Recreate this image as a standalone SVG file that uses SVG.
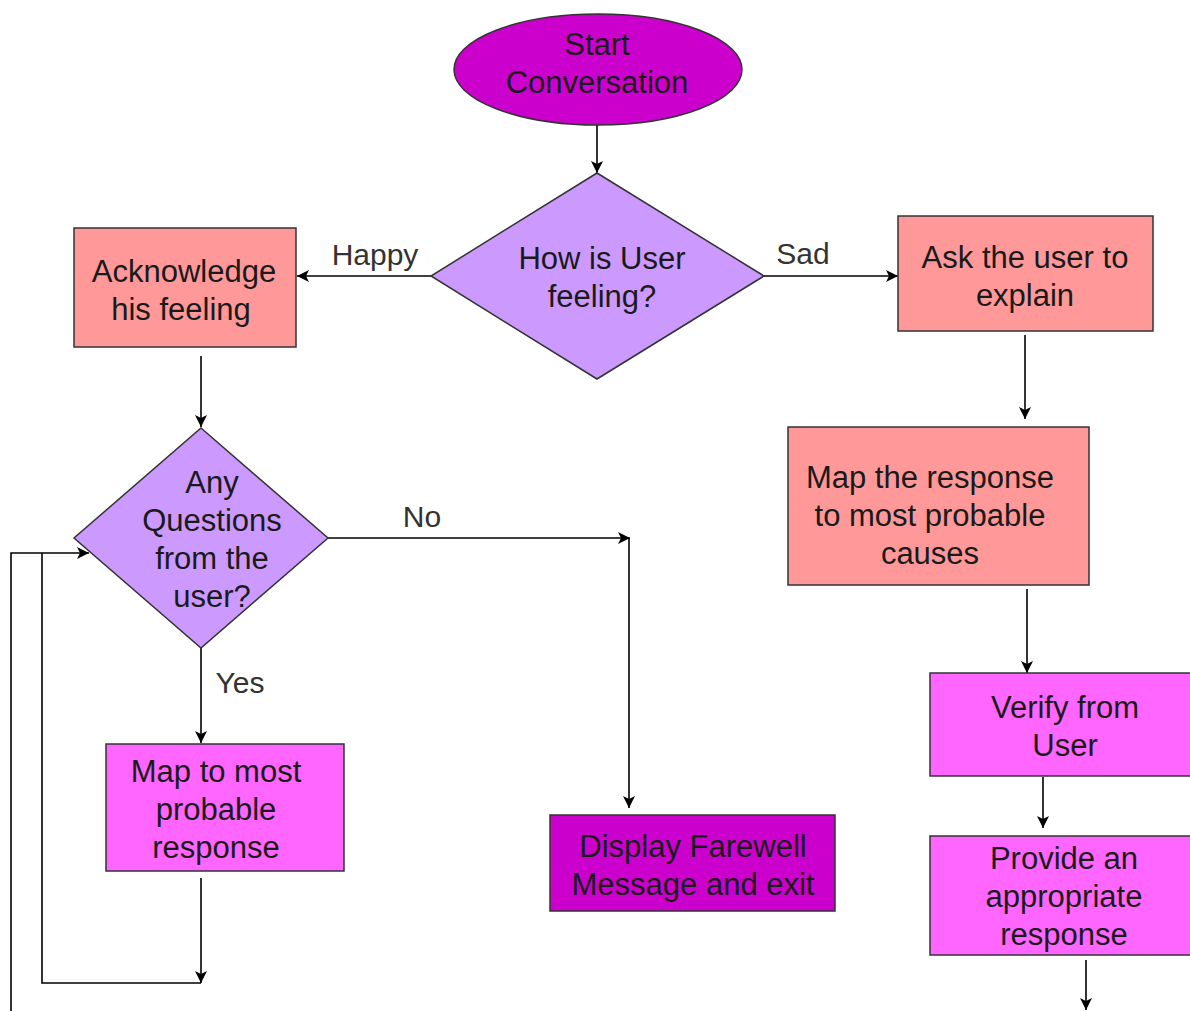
<svg xmlns="http://www.w3.org/2000/svg" width="1190" height="1011" viewBox="0 0 1190 1011">
<style>
.t{font-family:"Liberation Sans",Arial,sans-serif;font-size:31px;fill:#1a1a1a;text-anchor:middle}
.l{font-family:"Liberation Sans",Arial,sans-serif;font-size:30px;fill:#333;text-anchor:middle}
.n{stroke:#333;stroke-width:1.5}
.c{fill:none;stroke:#000;stroke-width:1.6}
</style>
<defs>
<marker id="a" markerUnits="userSpaceOnUse" markerWidth="14" markerHeight="12" refX="12" refY="6" orient="auto">
<path d="M0,0 L12,6 L0,12 L3,6 z" fill="#000"/>
</marker>
</defs>
<rect width="1190" height="1011" fill="#fff"/>
<g id="connectors">
<line class="c" x1="597" y1="125" x2="597" y2="173" marker-end="url(#a)"/>
<line class="c" x1="431" y1="276" x2="297" y2="276" marker-end="url(#a)"/>
<line class="c" x1="764" y1="276" x2="898" y2="276" marker-end="url(#a)"/>
<line class="c" x1="1025" y1="335" x2="1025" y2="419" marker-end="url(#a)"/>
<line class="c" x1="1027" y1="589" x2="1027" y2="673" marker-end="url(#a)"/>
<line class="c" x1="1043" y1="777" x2="1043" y2="828" marker-end="url(#a)"/>
<line class="c" x1="1086" y1="960" x2="1086" y2="1010" marker-end="url(#a)"/>
<line class="c" x1="201" y1="356" x2="201" y2="427" marker-end="url(#a)"/>
<line class="c" x1="328" y1="538" x2="630" y2="538" marker-end="url(#a)"/>
<line class="c" x1="629" y1="538" x2="629" y2="808" marker-end="url(#a)"/>
<line class="c" x1="201" y1="648" x2="201" y2="743" marker-end="url(#a)"/>
<line class="c" x1="201" y1="878" x2="201" y2="983" marker-end="url(#a)"/>
<polyline class="c" points="201,983 42,983 42,553"/>
<polyline class="c" points="11,1011 11,553 89,553" marker-end="url(#a)"/>
<text class="l" x="375" y="265">Happy</text>
<text class="l" x="803" y="264">Sad</text>
<text class="l" x="422" y="527">No</text>
<text class="l" x="240" y="693">Yes</text>
</g>
<g id="start">
<ellipse class="n" cx="598" cy="69.5" rx="144" ry="55.5" fill="#CC00CC"/>
<text class="t" x="597" y="55">Start</text>
<text class="t" x="597" y="93">Conversation</text>
</g>
<g id="feeling">
<polygon class="n" points="597,173 764,276 597,379 431,276" fill="#CC99FF"/>
<text class="t" x="602" y="269">How is User</text>
<text class="t" x="602" y="307">feeling?</text>
</g>
<g id="acknowledge">
<rect class="n" x="74" y="228" width="222" height="119" fill="#FF9999"/>
<text class="t" x="184" y="282">Acknowledge</text>
<text class="t" x="181" y="320">his feeling</text>
</g>
<g id="ask">
<rect class="n" x="898" y="216" width="255" height="115" fill="#FF9999"/>
<text class="t" x="1025" y="268">Ask the user to</text>
<text class="t" x="1025" y="306">explain</text>
</g>
<g id="mapcauses">
<rect class="n" x="788" y="427" width="301" height="158" fill="#FF9999"/>
<text class="t" x="930" y="488">Map the response</text>
<text class="t" x="930" y="526">to most probable</text>
<text class="t" x="930" y="564">causes</text>
</g>
<g id="verify">
<rect class="n" x="930" y="673" width="270" height="103" fill="#FF66FF"/>
<text class="t" x="1065" y="718">Verify from</text>
<text class="t" x="1065" y="756">User</text>
</g>
<g id="provide">
<rect class="n" x="930" y="836" width="270" height="119" fill="#FF66FF"/>
<text class="t" x="1064" y="869">Provide an</text>
<text class="t" x="1064" y="907">appropriate</text>
<text class="t" x="1064" y="945">response</text>
</g>
<g id="questions">
<polygon class="n" points="201,428 328,538 201,648 74,538" fill="#CC99FF"/>
<text class="t" x="212" y="493">Any</text>
<text class="t" x="212" y="531">Questions</text>
<text class="t" x="212" y="569">from the</text>
<text class="t" x="212" y="607">user?</text>
</g>
<g id="mapresponse">
<rect class="n" x="106" y="744" width="238" height="127" fill="#FF66FF"/>
<text class="t" x="216" y="782">Map to most</text>
<text class="t" x="216" y="820">probable</text>
<text class="t" x="216" y="858">response</text>
</g>
<g id="farewell">
<rect class="n" x="550" y="815" width="285" height="96" fill="#CC00CC"/>
<text class="t" x="693" y="857">Display Farewell</text>
<text class="t" x="693" y="895">Message and exit</text>
</g>
</svg>
